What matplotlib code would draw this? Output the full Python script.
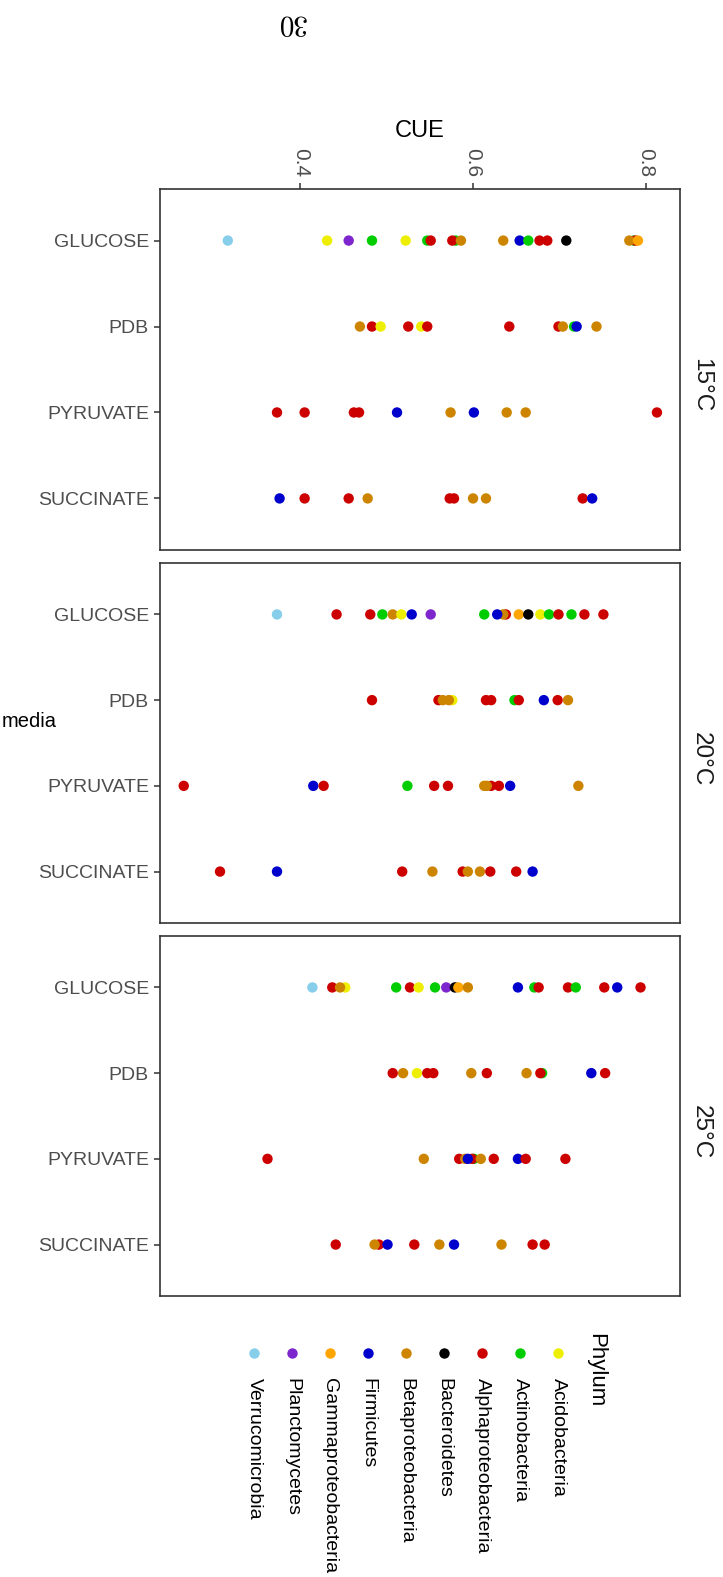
import numpy as np
import pandas as pd
import matplotlib
matplotlib.use("Agg")
import matplotlib.pyplot as plt

plt.rcParams['font.family'] = ['Liberation Sans', 'DejaVu Sans']

# media order on the discrete axis
media_levels = ["GLUCOSE", "PDB", "PYRUVATE", "SUCCINATE"]
temps = ["15°C", "20°C", "25°C"]

phylum_names = ["Acidobacteria", "Actinobacteria", "Alphaproteobacteria", "Bacteroidetes",
                "Betaproteobacteria", "Firmicutes", "Gammaproteobacteria", "Planctomycetes",
                "Verrucomicrobia"]
phylum_codes = ["Aci", "Act", "Alp", "Bac", "Bet", "Fir", "Gam", "Pla", "Ver"]
phylum_colors = ["#EEEE00", "#00CD00", "#CD0000", "#000000", "#CD8500",
                 "#0000CD", "#FFA500", "#7D26CD", "#87CEEB"]

# 15 C
cue_15 = [0.316, 0.431, 0.456, 0.483, 0.522, 0.547, 0.551, 0.580, 0.576, 0.586, 0.635, 0.654, 0.664, 0.677, 0.686, 0.708, 0.786, 0.788, 0.781, 0.791,
          0.469, 0.483, 0.493, 0.525, 0.540, 0.547, 0.642, 0.699, 0.704, 0.717, 0.720, 0.743,
          0.373, 0.405, 0.462, 0.468, 0.512, 0.574, 0.601, 0.639, 0.661, 0.813,
          0.376, 0.405, 0.456, 0.478, 0.573, 0.578, 0.600, 0.615, 0.727, 0.738]
media_15 = ["GLUCOSE"] * 20 + ["PDB"] * 12 + ["PYRUVATE"] * 10 + ["SUCCINATE"] * 10
phy_15 = ["Ver", "Aci", "Pla", "Act", "Aci", "Act", "Alp", "Act", "Alp", "Bet", "Bet", "Fir", "Act", "Alp", "Alp", "Bac", "Act", "Alp", "Bet", "Gam",
          "Bet", "Alp", "Aci", "Alp", "Aci", "Alp", "Alp", "Alp", "Bet", "Act", "Fir", "Bet",
          "Alp", "Alp", "Alp", "Alp", "Fir", "Bet", "Fir", "Bet", "Bet", "Alp",
          "Fir", "Alp", "Alp", "Bet", "Alp", "Alp", "Bet", "Bet", "Alp", "Fir"]

# 20 C
cue_20 = [0.373, 0.442, 0.481, 0.495, 0.507, 0.517, 0.529, 0.551, 0.613, 0.638, 0.635, 0.628, 0.653, 0.664, 0.678, 0.688, 0.699, 0.714, 0.729, 0.751,
          0.483, 0.560, 0.565, 0.576, 0.572, 0.615, 0.621, 0.648, 0.653, 0.682, 0.698, 0.710,
          0.265, 0.415, 0.427, 0.524, 0.555, 0.571, 0.621, 0.613, 0.616, 0.630, 0.643, 0.722,
          0.307, 0.373, 0.518, 0.553, 0.588, 0.594, 0.608, 0.620, 0.650, 0.669]
media_20 = ["GLUCOSE"] * 20 + ["PDB"] * 12 + ["PYRUVATE"] * 12 + ["SUCCINATE"] * 10
phy_20 = ["Ver", "Alp", "Alp", "Act", "Bet", "Aci", "Fir", "Pla", "Act", "Alp", "Bet", "Fir", "Gam", "Bac", "Aci", "Act", "Alp", "Act", "Alp", "Alp",
          "Alp", "Alp", "Bet", "Aci", "Bet", "Alp", "Alp", "Act", "Alp", "Fir", "Alp", "Bet",
          "Alp", "Fir", "Alp", "Act", "Alp", "Alp", "Alp", "Bet", "Bet", "Alp", "Fir", "Bet",
          "Alp", "Fir", "Alp", "Bet", "Alp", "Bet", "Bet", "Alp", "Alp", "Fir"]

# 25 C
cue_25 = [0.414, 0.437, 0.452, 0.446, 0.511, 0.527, 0.537, 0.556, 0.569, 0.579, 0.583, 0.594, 0.652, 0.671, 0.676, 0.710, 0.719, 0.752, 0.767, 0.794,
          0.507, 0.519, 0.535, 0.547, 0.554, 0.598, 0.616, 0.662, 0.680, 0.678, 0.737, 0.753,
          0.362, 0.543, 0.584, 0.591, 0.601, 0.599, 0.594, 0.609, 0.624, 0.652, 0.661, 0.707,
          0.441, 0.491, 0.486, 0.501, 0.532, 0.561, 0.578, 0.633, 0.669, 0.683]
media_25 = ["GLUCOSE"] * 20 + ["PDB"] * 12 + ["PYRUVATE"] * 12 + ["SUCCINATE"] * 10
phy_25 = ["Ver", "Alp", "Aci", "Bet", "Act", "Alp", "Aci", "Act", "Pla", "Bac", "Gam", "Bet", "Fir", "Act", "Alp", "Alp", "Act", "Alp", "Fir", "Alp",
          "Alp", "Bet", "Aci", "Alp", "Alp", "Bet", "Alp", "Bet", "Act", "Alp", "Fir", "Alp",
          "Alp", "Bet", "Alp", "Bet", "Act", "Alp", "Fir", "Bet", "Alp", "Fir", "Alp", "Alp",
          "Alp", "Alp", "Bet", "Fir", "Alp", "Bet", "Fir", "Bet", "Alp", "Alp"]

x_ticks = [0.4, 0.6, 0.8]

df = pd.concat([
    pd.DataFrame({"temp": "15°C", "media": media_15, "cue": cue_15, "phylum": phy_15}),
    pd.DataFrame({"temp": "20°C", "media": media_20, "cue": cue_20, "phylum": phy_20}),
    pd.DataFrame({"temp": "25°C", "media": media_25, "cue": cue_25, "phylum": phy_25}),
])
color_of = dict(zip(phylum_codes, phylum_colors))

W, H = 723, 1577
fig = plt.figure(figsize=(W / 100, H / 100), dpi=100)


def fx(x):
    return x / W


def fy(y):
    return 1 - y / H


# panel boxes in pixels (top, bottom)
panel_rows = [(189, 550), (563, 923), (936, 1296)]
left_px, right_px = 160, 680
dark = "#333333"

for i, (t, (top, bot)) in enumerate(zip(temps, panel_rows)):
    ax = fig.add_axes([fx(left_px), fy(bot), fx(right_px - left_px), (bot - top) / H])
    sub = df[df["temp"] == t]
    ypos = sub["media"].map({m: k + 1 for k, m in enumerate(media_levels)})
    ax.scatter(sub["cue"], ypos, c=sub["phylum"].map(color_of), s=56, linewidths=0, zorder=3)
    ax.set_xlim(0.2375, 0.8397)
    ax.set_ylim(4.6, 0.4)
    ax.set_yticks(range(1, 5))
    ax.set_yticklabels(media_levels)
    ax.set_xticks(x_ticks)
    ax.xaxis.tick_top()
    for sp in ax.spines.values():
        sp.set_color(dark)
        sp.set_linewidth(1.2)
    ax.tick_params(axis="y", length=4.5, width=1.1, color=dark, labelsize=14, labelcolor="#4D4D4D", pad=3.5)
    if i == 0:
        ax.tick_params(axis="x", length=4.5, width=1.1, color=dark, labelsize=15,
                       labelcolor="#4D4D4D", labelrotation=-90, pad=4)
        ax.set_xticklabels([str(v) for v in x_ticks], va="bottom", ha="center")
    else:
        ax.tick_params(axis="x", top=False, labeltop=False, bottom=False, labelbottom=False)
    # strip label
    fig.text(fx(701), fy((top + bot) / 2 + 16), t, rotation=-90, ha="center", va="center",
             fontsize=17.5, color="#1A1A1A")

# axis titles
fig.text(fx(420), fy(131), "CUE", ha="center", va="center", fontsize=17)
fig.text(fx(29), fy(722), "media", ha="center", va="center", fontsize=14.5)

# page number (page is rotated)
fig.text(fx(291), fy(23), "30", family="cmr10", rotation=180, ha="center", va="center", fontsize=21)

# legend
fig.text(fx(596), fy(1333), "Phylum", rotation=-90, ha="center", va="top", fontsize=16)
for k, (name, col) in enumerate(zip(phylum_names, phylum_colors)):
    lx = 558 - 38 * k
    fig.add_artist(plt.Line2D([fx(lx)], [fy(1353)], marker="o", markersize=7.5,
                              color=col, markeredgewidth=0, transform=fig.transFigure))
    fig.text(fx(lx), fy(1378), name, rotation=-90, ha="center", va="top", fontsize=14)

fig.savefig("out.png", dpi=100)
